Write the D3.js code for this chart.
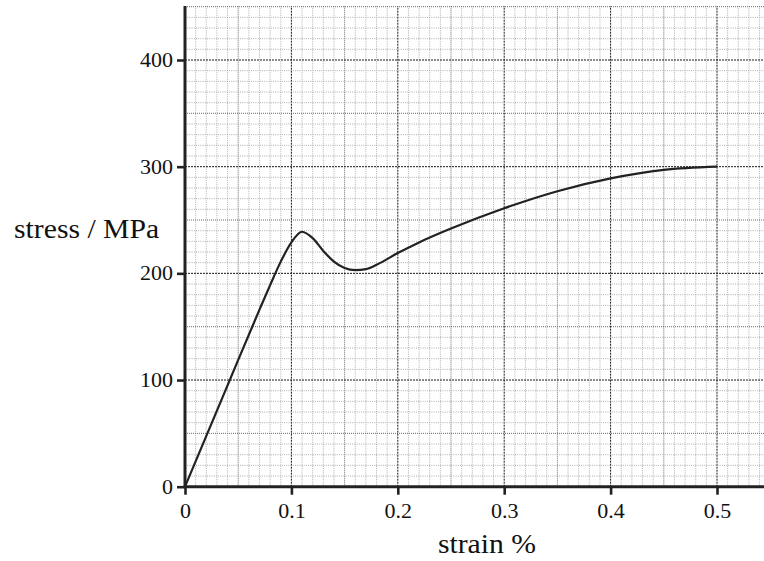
<!DOCTYPE html>
<html>
<head>
<meta charset="utf-8">
<script src="https://cdn.jsdelivr.net/npm/d3@7"></script>
<style>
  body { margin: 0; background: #fff; }
  svg { display: block; }
  text { font-family: "Liberation Serif", serif; fill: #111; }
</style>
</head>
<body>
<div id="chart"></div>
<script>
// data
const strain = [0, 0.04, 0.07, 0.08, 0.09, 0.1, 0.11, 0.12, 0.13, 0.14, 0.15, 0.16, 0.17, 0.18, 0.2, 0.22, 0.25, 0.3, 0.35, 0.4, 0.45, 0.5];
const stress = [0, 95, 166, 189, 211, 229, 239, 233, 221, 211, 205, 203, 204, 208, 219, 229, 242, 261, 277, 289, 297, 300];
const xTicks = [0, 0.1, 0.2, 0.3, 0.4, 0.5];
const yTicks = [0, 100, 200, 300, 400];
const xLabel = "strain %";
const yLabel = "stress / MPa";

const WIDTH = 764, HEIGHT = 561;

const svg = d3.select('#chart').append('svg')
  .attr('width', WIDTH).attr('height', HEIGHT);

const x = d3.scaleLinear().domain([0, 0.5]).range([185, 717]);
const y = d3.scaleLinear().domain([0, 400]).range([486.7, 60]);
const xMax = x.invert(WIDTH + 2);
const yMax = y.invert(6);

// grid
const grid = svg.append('g');
const minorX = d3.range(0, 0.55, 0.01).filter(v => v <= xMax);
const minorY = d3.range(0, 451, 10).filter(v => v <= yMax);

function lineStyle(v, step) {
  const k = Math.round(v / step);
  if (k % 10 === 0) return { c: '#1a1a1a', d: '2,1', w: 1 };
  if (k % 5 === 0) return { c: '#5a5a5a', d: '1,1', w: 0.9 };
  return { c: '#9a9a9a', d: '1,1.2', w: 0.8 };
}

minorX.forEach(v => {
  const s = lineStyle(v, 0.01);
  grid.append('line')
    .attr('x1', x(v)).attr('x2', x(v))
    .attr('y1', y(0)).attr('y2', y(yMax))
    .attr('stroke', s.c).attr('stroke-width', s.w).attr('stroke-dasharray', s.d);
});
minorY.forEach(v => {
  const s = lineStyle(v, 10);
  grid.append('line')
    .attr('x1', x(0)).attr('x2', WIDTH)
    .attr('y1', y(v)).attr('y2', y(v))
    .attr('stroke', s.c).attr('stroke-width', s.w).attr('stroke-dasharray', s.d);
});

// curve
const data = strain.map((s, i) => ({ s: s, p: stress[i] }));
const line = d3.line()
  .x(d => x(d.s))
  .y(d => y(d.p))
  .curve(d3.curveMonotoneX);

svg.append('path')
  .datum(data)
  .attr('fill', 'none')
  .attr('stroke', '#222')
  .attr('stroke-width', 2.2)
  .attr('d', line);

// axes
const xAxis = d3.axisBottom(x).tickValues(xTicks).tickSize(8).tickPadding(9)
  .tickFormat(d3.format('~g'));
const yAxis = d3.axisLeft(y).tickValues(yTicks).tickSize(8).tickPadding(4)
  .tickFormat(d3.format('d'));

const gx = svg.append('g').attr('transform', `translate(0,${y(0)})`).call(xAxis);
const gy = svg.append('g').attr('transform', `translate(${x(0)},0)`).call(yAxis);

[gx, gy].forEach(g => {
  g.select('.domain').remove();
  g.selectAll('.tick line').attr('stroke', '#222').attr('stroke-width', 2.6);
  g.selectAll('.tick text').attr('fill', '#111')
    .attr('font-size', null).attr('font-family', null)
    .style('font-size', '20px');
});

svg.append('line')
  .attr('x1', x(0) - 1.3).attr('x2', WIDTH)
  .attr('y1', y(0)).attr('y2', y(0))
  .attr('stroke', '#222').attr('stroke-width', 3);
svg.append('line')
  .attr('x1', x(0)).attr('x2', x(0))
  .attr('y1', y(0) + 1.3).attr('y2', y(yMax))
  .attr('stroke', '#222').attr('stroke-width', 3);

// axis titles
svg.append('text')
  .attr('x', 487).attr('y', 553)
  .attr('text-anchor', 'middle')
  .style('font-size', '27px')
  .text(xLabel);

svg.append('text')
  .attr('x', 14).attr('y', 238)
  .style('font-size', '27px')
  .text(yLabel);

// the picture's lettering is a touch wider than plain Times
svg.selectAll('text').each(function () {
  const w = this.getComputedTextLength();
  d3.select(this).attr('textLength', w * 1.1).attr('lengthAdjust', 'spacingAndGlyphs');
});
</script>
</body>
</html>
